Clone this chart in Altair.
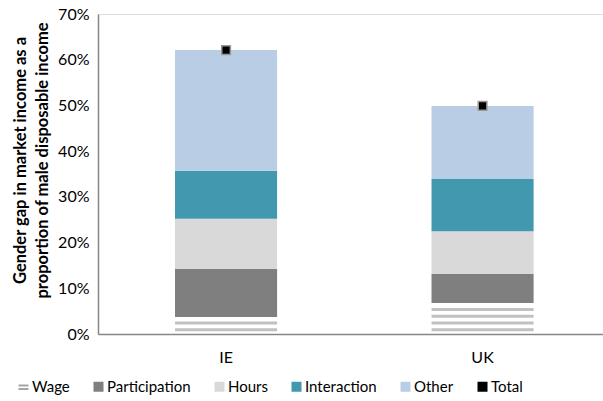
import altair as alt
import pandas as pd

# Gender gap in market income, decomposed by component (share of male disposable income)
countries = ["IE", "UK"]
components = ["Wage", "Participation", "Hours", "Interaction", "Other"]
wage = [0.037, 0.068]
participation = [0.105, 0.063]
hours = [0.110, 0.094]
interaction = [0.105, 0.114]
other = [0.264, 0.160]
total = [0.621, 0.499]

legend_items = components + ["Total"]
palette = ["#a6a6a6", "#7f7f7f", "#d9d9d9", "#4198af", "#b9cde5", "#000000"]
# legend glyphs: twin bars for the hatched wage part, squares elsewhere
WAGE_GLYPH = "M-1,-0.45H1V-0.05H-1Z M-1,0.25H1V0.65H-1Z"
glyphs = [WAGE_GLYPH, "square", "square", "square", "square", "square"]

FONT = "Lato"

# stacked segments (wage drawn as stripes, the rest as solid fills)
rows = []
for i, c in enumerate(countries):
    parts = [wage[i], participation[i], hours[i], interaction[i], other[i]]
    base = 0.0
    for comp, v in zip(components, parts):
        rows.append({"country": c, "component": comp, "start": base, "end": base + v})
        base += v
seg = pd.DataFrame(rows)
solid = seg[seg.component != "Wage"]

# horizontal hatch lines filling the wage segment
STRIPE_FIRST, STRIPE_STEP = 0.0094, 0.0147
stripe_rows = []
for i, c in enumerate(countries):
    y = STRIPE_FIRST
    while y < wage[i]:
        stripe_rows.append({"country": c, "y": y, "component": "Wage"})
        y += STRIPE_STEP
stripes = pd.DataFrame(stripe_rows)

tot = pd.DataFrame({"country": countries, "value": total, "component": ["Total"] * len(countries)})

x_scale = alt.Scale(domain=countries, paddingInner=0.602, paddingOuter=0.2854, align=0.526)
y_scale = alt.Scale(domain=[0, 0.7], nice=False, zero=True)
color_scale = alt.Scale(domain=legend_items, range=palette)
shape_scale = alt.Scale(domain=legend_items, range=glyphs)

x_enc = alt.X("country:N", scale=x_scale, sort=countries,
              axis=alt.Axis(title=None, labelAngle=0, ticks=False, labelPadding=15,
                            labelFontSize=16, labelFont=FONT, labelColor="#000000",
                            domainColor="#868686", domainWidth=1.5))

legend = alt.Legend(
    title=None, orient="none", legendX=-82, legendY=365, direction="horizontal",
    columns=6, columnPadding=21, symbolSize=100, labelFontSize=15, labelFont=FONT,
    labelColor="#000000", labelOffset=1, symbolStrokeWidth=0, symbolOpacity=1,
)

bars = alt.Chart(solid).mark_bar().encode(
    x=x_enc,
    y=alt.Y("start:Q", scale=y_scale,
            axis=alt.Axis(format="%", values=[0, 0.1, 0.2, 0.3, 0.4, 0.5, 0.6, 0.7],
                          ticks=False, grid=False, labelPadding=9, labelFontSize=16,
                          labelFont=FONT, labelColor="#000000", domainColor="#868686",
                          domainWidth=1.5,
                          title=["Gender gap in market income as a",
                                 "proportion of male disposable income"],
                          titleFont=FONT, titleFontSize=16.5, titleFontWeight="bold",
                          titleColor="#000000", titlePadding=7, titleLineHeight=22,
                          titleY=146)),
    y2="end:Q",
    color=alt.Color("component:N", scale=color_scale, legend=legend),
)

hatch = alt.Chart(stripes).mark_tick(thickness=3, size=102).encode(
    x=alt.X("country:N", scale=x_scale, sort=countries),
    y=alt.Y("y:Q", scale=y_scale),
    color=alt.Color("component:N", scale=color_scale, legend=legend),
)

marks = alt.Chart(tot).mark_point(filled=True, size=75, opacity=1,
                                  stroke="#999999", strokeWidth=1.5).encode(
    x=alt.X("country:N", scale=x_scale, sort=countries),
    y=alt.Y("value:Q", scale=y_scale),
    color=alt.Color("component:N", scale=color_scale, legend=legend),
    shape=alt.Shape("component:N", scale=shape_scale, legend=legend),
)

chart = alt.layer(bars, hatch, marks).properties(
    width=505, height=320,
    autosize=alt.AutoSizeParams(type="none"),
    padding={"left": 98, "top": 14, "right": 0, "bottom": 67},
).configure_view(stroke=None).configure(background="white")

chart.save("out.html", embed_options={"renderer": "svg", "actions": False})
